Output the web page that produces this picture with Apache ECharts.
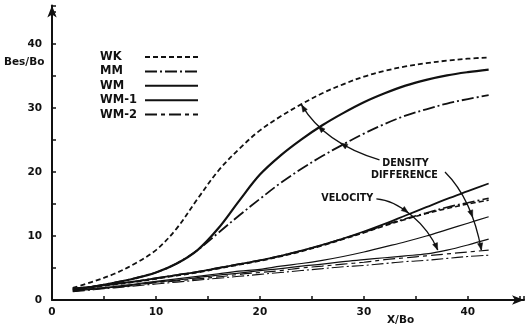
<!DOCTYPE html>
<html>
<head>
<meta charset="utf-8">
<script src="https://cdn.jsdelivr.net/npm/echarts@6/dist/echarts.min.js"></script>
<style>
  html, body { margin: 0; padding: 0; background: #fff; }
  #chart { width: 532px; height: 329px; }
</style>
</head>
<body>
<div id="chart"></div>
<script>
// Stations along the plume axis, X/Bo
const xs = [2, 4, 6, 8, 10, 12, 14, 16, 18, 20, 22, 24, 26, 28, 30, 32, 34, 36, 38, 40, 42];

// Density-difference case: half-width Bes/Bo
const wkDensity  = [1.9, 2.9, 4.1, 5.7, 7.8, 11.2, 15.8, 20.2, 23.6, 26.5, 28.7, 30.6, 32.3, 33.7, 34.9, 35.8, 36.5, 37.0, 37.4, 37.7, 37.9];
const mmDensity  = [1.6, 2.1, 2.7, 3.4, 4.3, 5.7, 7.8, 10.5, 13.2, 15.8, 18.3, 20.5, 22.5, 24.3, 26.0, 27.5, 28.8, 29.8, 30.7, 31.4, 32.0];
const wmDensity  = [1.6, 2.1, 2.7, 3.4, 4.3, 5.7, 7.8, 11.2, 15.5, 19.6, 22.6, 25.1, 27.3, 29.2, 30.9, 32.3, 33.5, 34.4, 35.1, 35.6, 36.0];

// Velocity case
const wmVelocity = [1.8, 2.1, 2.5, 2.9, 3.4, 3.9, 4.4, 5.0, 5.6, 6.2, 6.9, 7.7, 8.6, 9.6, 10.7, 11.9, 13.2, 14.5, 15.8, 17.0, 18.2];
const mmVelocity = [1.8, 2.1, 2.5, 2.9, 3.4, 3.9, 4.4, 5.0, 5.6, 6.2, 6.9, 7.7, 8.6, 9.6, 10.6, 11.7, 12.7, 13.6, 14.5, 15.2, 15.9];
const wkVelocity = [1.7, 2.0, 2.4, 2.8, 3.3, 3.8, 4.3, 4.9, 5.5, 6.1, 6.8, 7.6, 8.5, 9.5, 10.5, 11.6, 12.6, 13.5, 14.3, 15.0, 15.6];

// Modified models
const wm1Upper   = [1.5, 1.8, 2.1, 2.5, 2.9, 3.3, 3.7, 4.1, 4.5, 4.8, 5.3, 5.7, 6.2, 6.8, 7.5, 8.3, 9.1, 10.0, 11.0, 12.0, 13.0];
const wm1Lower   = [1.4, 1.7, 2.0, 2.4, 2.8, 3.1, 3.5, 3.9, 4.2, 4.6, 4.9, 5.3, 5.6, 6.0, 6.3, 6.6, 6.9, 7.2, 7.8, 8.6, 9.5];
const wm2Upper   = [1.4, 1.7, 2.0, 2.3, 2.7, 3.0, 3.3, 3.6, 4.0, 4.3, 4.6, 5.0, 5.3, 5.6, 5.9, 6.3, 6.6, 6.9, 7.2, 7.5, 7.8];
const wm2Lower   = [1.3, 1.6, 1.9, 2.2, 2.5, 2.8, 3.1, 3.4, 3.7, 4.0, 4.3, 4.6, 4.9, 5.2, 5.4, 5.7, 6.0, 6.2, 6.5, 6.8, 7.0];

const legendNames = ['WK', 'MM', 'WM', 'WM-1', 'WM-2'];
const yTicks = [0, 10, 20, 30, 40];
const xTicks = [0, 10, 20, 30, 40];

const INK = '#111';
const styles = {
  'WK':   { width: 1.8, type: [5, 3] },
  'MM':   { width: 1.8, type: [12, 3, 2, 3] },
  'WM':   { width: 2.2, type: 'solid' },
  'WM-1': { width: 1.2, type: 'solid' },
  'WM-2': { width: 1.2, type: [12, 4, 4, 4] }
};

const pairs = ys => xs.map((x, i) => [x, ys[i]]);

function curve(name, ys, widthOverride) {
  const s = styles[name];
  return {
    name: name,
    type: 'line',
    data: pairs(ys),
    smooth: 0.35,
    symbol: 'none',
    showSymbol: false,
    silent: true,
    lineStyle: { color: INK, width: widthOverride || s.width, type: s.type },
    itemStyle: { color: INK }
  };
}

const chart = echarts.init(document.getElementById('chart'), null, { renderer: 'canvas' });

const labelFont = { fontFamily: 'DejaVu Sans', fontWeight: 'bold', fontSize: 10.5, color: INK };

chart.setOption({
  animation: false,
  backgroundColor: '#fff',
  grid: { left: 52, right: 8, top: 5.6, bottom: 29, containLabel: false },
  xAxis: {
    type: 'value', min: 0, max: 45.4, interval: 5,
    axisLine: { show: true, symbol: ['none', 'arrow'], symbolSize: [7, 12], lineStyle: { color: INK, width: 2 } },
    axisTick: { show: true, inside: true, length: 4, lineStyle: { color: INK, width: 1.5 } },
    axisLabel: Object.assign({ margin: 7, formatter: v => xTicks.includes(v) ? String(v) : '' }, labelFont),
    splitLine: { show: false }
  },
  yAxis: {
    type: 'value', min: 0, max: 46, interval: 5,
    axisLine: { show: true, symbol: ['none', 'arrow'], symbolSize: [7, 12], lineStyle: { color: INK, width: 2 } },
    axisTick: { show: true, inside: true, length: 4, lineStyle: { color: INK, width: 1.5 } },
    axisLabel: Object.assign({ margin: 10, formatter: v => yTicks.includes(v) ? String(v) : '' }, labelFont),
    splitLine: { show: false }
  },
  legend: {
    orient: 'vertical', left: 95, top: 46, align: 'right',
    itemWidth: 53, itemHeight: 12, itemGap: 2.4,
    selectedMode: false,
    data: legendNames,
    itemStyle: { opacity: 0, borderWidth: 0 },
    formatter: n => '{t|' + n + '}',
    textStyle: {
      rich: { t: { width: 40, align: 'left', fontSize: 11.5, fontWeight: 'bold', fontFamily: 'DejaVu Sans', color: INK } }
    }
  },
  series: [
    curve('WK', wkDensity),
    curve('MM', mmDensity),
    curve('WM', wmDensity),
    curve('WM-1', wm1Upper),
    curve('WM-2', wm2Upper),
    curve('WM', wmVelocity, 1.8),
    curve('MM', mmVelocity, 1.6),
    curve('WK', wkVelocity, 1.6),
    curve('WM-1', wm1Lower),
    curve('MM', wm2Lower, 1.1)
  ]
});

// Annotation arrows, anchored in data space (X/Bo, Bes/Bo)
const arcs = [
  { pts: [[31.5, 21.9], [26.2, 24.5], [24.0, 30.5]], heads: [0.4, 0.7, 1] },
  { pts: [[37.8, 20.0], [40.4, 15.8], [41.3, 7.8]], heads: [0.65, 1] },
  { pts: [[31.2, 15.8], [33.4, 15.6], [36.1, 11.7], [37.1, 7.8]], heads: [0.45, 1] }
];
const notes = [
  { text: 'DENSITY', at: [34.0, 21.4] },
  { text: 'DIFFERENCE', at: [33.9, 19.5] },
  { text: 'VELOCITY', at: [28.4, 15.9] }
];

function bez(p, t) {
  if (p.length === 3) {
    const a = (1 - t) * (1 - t), b = 2 * t * (1 - t), c = t * t;
    const da = -2 * (1 - t), db = 2 - 4 * t, dc = 2 * t;
    return {
      x: a * p[0][0] + b * p[1][0] + c * p[2][0], y: a * p[0][1] + b * p[1][1] + c * p[2][1],
      dx: da * p[0][0] + db * p[1][0] + dc * p[2][0], dy: da * p[0][1] + db * p[1][1] + dc * p[2][1]
    };
  }
  const u = 1 - t;
  const a = u * u * u, b = 3 * t * u * u, c = 3 * t * t * u, d = t * t * t;
  const da = -3 * u * u, db = 3 * u * u - 6 * t * u, dc = 6 * t * u - 3 * t * t, dd = 3 * t * t;
  return {
    x: a * p[0][0] + b * p[1][0] + c * p[2][0] + d * p[3][0],
    y: a * p[0][1] + b * p[1][1] + c * p[2][1] + d * p[3][1],
    dx: da * p[0][0] + db * p[1][0] + dc * p[2][0] + dd * p[3][0],
    dy: da * p[0][1] + db * p[1][1] + dc * p[2][1] + dd * p[3][1]
  };
}

const toPx = v => chart.convertToPixel({ gridIndex: 0 }, v);
const graphics = [];

arcs.forEach(arc => {
  const p = arc.pts.map(toPx);
  const shape = { x1: p[0][0], y1: p[0][1], x2: p[p.length - 1][0], y2: p[p.length - 1][1], cpx1: p[1][0], cpy1: p[1][1] };
  if (p.length === 4) { shape.cpx2 = p[2][0]; shape.cpy2 = p[2][1]; }
  graphics.push({ type: 'bezierCurve', shape: shape, silent: true, style: { stroke: INK, lineWidth: 1.3, fill: null } });
  arc.heads.forEach(t => {
    const q = bez(p, t);
    const len = Math.hypot(q.dx, q.dy) || 1;
    const ux = q.dx / len, uy = q.dy / len;
    const L = 7, W = 2.6;
    const bx = q.x - ux * L, by = q.y - uy * L;
    graphics.push({
      type: 'polygon', silent: true,
      shape: { points: [[q.x, q.y], [bx - uy * W, by + ux * W], [bx + uy * W, by - ux * W]] },
      style: { fill: INK, stroke: INK, lineWidth: 0.5 }
    });
  });
});

notes.forEach(n => {
  const c = toPx(n.at);
  graphics.push({
    type: 'text', silent: true,
    style: { text: n.text, x: c[0], y: c[1], align: 'center', verticalAlign: 'middle',
             font: 'bold 9.6px "DejaVu Sans"', fill: INK }
  });
});

// Axis titles
graphics.push({
  type: 'text', silent: true,
  style: { text: 'Bes/Bo', x: 4, y: 62, align: 'left', verticalAlign: 'middle', font: 'bold 10.5px "DejaVu Sans"', fill: INK }
});
graphics.push({
  type: 'text', silent: true,
  style: { text: 'X/Bo', x: 387, y: 320, align: 'left', verticalAlign: 'middle', font: 'bold 10.5px "DejaVu Sans"', fill: INK }
});

chart.setOption({ graphic: graphics });
</script>
</body>
</html>
